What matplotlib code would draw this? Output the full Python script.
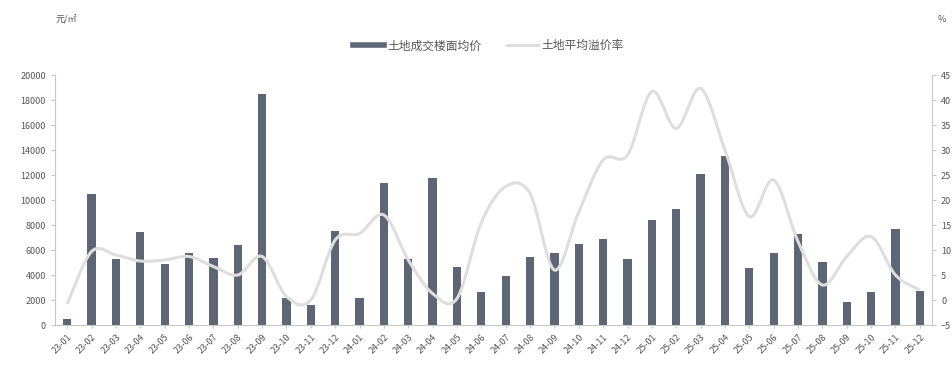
import matplotlib
matplotlib.use("Agg")
import matplotlib.pyplot as plt
from matplotlib.path import Path
from matplotlib.patches import PathPatch
from matplotlib.lines import Line2D
import numpy as np

plt.rcParams['font.family'] = ['Noto Sans CJK SC', 'DejaVu Sans']

months = ["23-01", "23-02", "23-03", "23-04", "23-05", "23-06", "23-07", "23-08", "23-09", "23-10", "23-11", "23-12",
          "24-01", "24-02", "24-03", "24-04", "24-05", "24-06", "24-07", "24-08", "24-09", "24-10", "24-11", "24-12",
          "25-01", "25-02", "25-03", "25-04", "25-05", "25-06", "25-07", "25-08", "25-09", "25-10", "25-11", "25-12"]

floor_price = [500, 10500, 5250, 7470, 4880, 5790, 5330, 6370, 18450, 2160, 1600, 7550,
               2160, 11330, 5280, 11730, 4610, 2610, 3920, 5470, 5790, 6450, 6850, 5250,
               8400, 9280, 12050, 13550, 4560, 5730, 7280, 5010, 1870, 2610, 7650, 2750]

premium_rate = [-0.8, 9.7, 9.0, 7.8, 8.0, 8.7, 6.7, 5.0, 8.7, 0.7, 0.0, 12.0,
                13.3, 17.0, 8.0, 1.3, 0.3, 15.5, 22.7, 21.3, 6.0, 17.6, 28.0, 29.0,
                41.7, 34.3, 42.3, 30.0, 16.7, 24.0, 11.7, 3.0, 8.7, 12.7, 5.0, 2.0]

bar_label = "土地成交楼面均价"
line_label = "土地平均溢价率"

bar_color = "#5d6675"
line_color = "#dedede"
text_color = "#555555"
axis_color = "#c8c8c8"

fig = plt.figure(figsize=(9.52, 3.67), dpi=100)
ax = fig.add_axes([0.0578, 0.1144, 0.9212, 0.6812])
ax2 = ax.twinx()

x = np.arange(len(months))
ax.bar(x, floor_price, width=0.34, color=bar_color, zorder=2)
ax.set_xlim(-0.5, len(months) - 0.5)
ax.set_ylim(0, 20000)
ax.set_yticks(np.arange(0, 20001, 2000))
ax.set_xticks(x)
ax.set_xticklabels(months, rotation=45, ha="right", rotation_mode="anchor", fontsize=6.5, color=text_color)

ax2.set_ylim(-5, 45)
ax2.set_yticks(np.arange(-5, 46, 5))

# smoothed line (Catmull-Rom rendered as cubic Bezier through the data points)
px = x.astype(float)
py = np.array(premium_rate, dtype=float)
verts = [(px[0], py[0])]
codes = [Path.MOVETO]
n = len(px)
for i in range(n - 1):
    p0 = (px[i - 1], py[i - 1]) if i > 0 else (px[i], py[i])
    p1 = (px[i], py[i])
    p2 = (px[i + 1], py[i + 1])
    p3 = (px[i + 2], py[i + 2]) if i + 2 < n else (px[i + 1], py[i + 1])
    t = 1 / 6.0
    c1 = (p1[0] + (p2[0] - p0[0]) * t, p1[1] + (p2[1] - p0[1]) * t)
    c2 = (p2[0] - (p3[0] - p1[0]) * t, p2[1] - (p3[1] - p1[1]) * t)
    verts += [c1, c2, p2]
    codes += [Path.CURVE4] * 3
patch = PathPatch(Path(verts, codes), facecolor="none", edgecolor=line_color, lw=2.2, zorder=3)
ax2.add_patch(patch)
ax.set_zorder(1)
ax2.set_zorder(2)
ax2.patch.set_visible(False)

for a in (ax, ax2):
    a.spines["top"].set_visible(False)
    a.spines["left"].set_color(axis_color)
    a.spines["right"].set_color(axis_color)
    a.spines["bottom"].set_color(axis_color)
    a.tick_params(axis="y", colors=text_color, labelsize=6.5, length=3, color=axis_color)
    a.tick_params(axis="x", colors=text_color, length=2, color=axis_color)
ax.spines["right"].set_visible(False)
ax2.spines["left"].set_visible(False)
ax2.spines["bottom"].set_visible(False)

fig.text(0.058, 0.94, "元/㎡", fontsize=6.5, color=text_color, style="italic")
fig.text(0.985, 0.94, "%", fontsize=6.5, color=text_color)

handles = [Line2D([0], [0], color=bar_color, lw=4),
           Line2D([0], [0], color=line_color, lw=2.2)]
fig.legend(handles, [bar_label, line_label], loc="center", bbox_to_anchor=(0.513, 0.875),
           ncol=2, frameon=False, fontsize=8.5, labelcolor=text_color,
           handlelength=2.6, handletextpad=0.3, columnspacing=2.2)

fig.savefig("out.png", dpi=100)
